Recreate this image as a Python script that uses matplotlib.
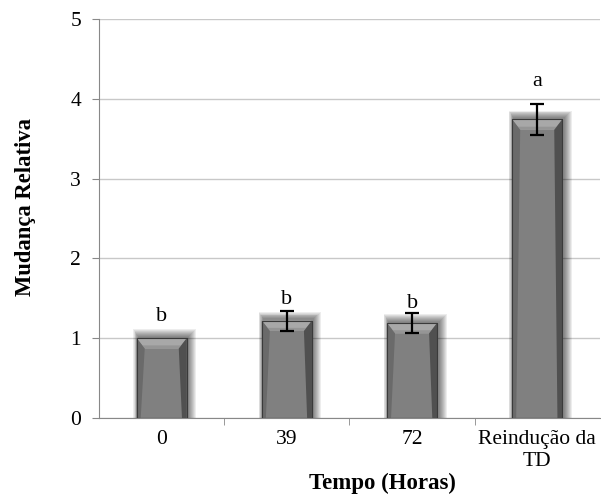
import matplotlib
matplotlib.use("Agg")
from matplotlib import pyplot as plt
from matplotlib.patches import Polygon, Rectangle
import numpy as np

categories = ["0", "39", "72", "Reindução da\nTD"]
values = [1.0, 1.22, 1.19, 3.74]
errors = [0.0, 0.125, 0.12, 0.19]
letters = ["b", "b", "b", "a"]
letter_y = [1.27, 1.48, 1.44, 4.21]

plt.rcParams["font.family"] = ["Liberation Serif", "DejaVu Serif"]

fig = plt.figure(figsize=(6.01, 4.97), dpi=100)
ax = fig.add_axes([0.165, 0.159, 0.833, 0.803])

x = np.arange(len(values))
w = 0.4

# soft shadow behind bars, a little to the right
for k in range(8):
    pad = 0.008 * (8 - k)
    for xi, v in zip(x, values):
        ax.add_patch(Rectangle((xi - w / 2 - pad * 0.6 + 0.012, 0), w + 1.6 * pad, v + 0.02 + pad * 1.4,
                               facecolor="black", alpha=0.07, lw=0, zorder=1))

bars = ax.bar(x, values, width=w, color="#808080", edgecolor="#404040", lw=0.8, zorder=2)

# bevel look
for b in bars:
    x0, wd, h = b.get_x(), b.get_width(), b.get_height()
    bx = wd * 0.16
    by = 0.13
    ax.add_patch(Polygon([(x0, h), (x0 + wd, h), (x0 + wd - bx, h - by), (x0 + bx, h - by)],
                         facecolor="#a8a8a8", lw=0, zorder=3))
    ax.add_patch(Polygon([(x0 + bx * 0.3, h - by * 0.7), (x0 + wd - bx * 0.3, h - by * 0.7),
                          (x0 + wd - bx, h - by), (x0 + bx, h - by)],
                         facecolor="#959595", lw=0, zorder=3))
    ax.add_patch(Polygon([(x0 + wd, h), (x0 + wd, 0), (x0 + wd - bx * 0.6, 0), (x0 + wd - bx, h - by)],
                         facecolor="#505050", lw=0, zorder=3))
    ax.add_patch(Polygon([(x0, h), (x0, 0), (x0 + bx * 0.5, 0), (x0 + bx, h - by)],
                         facecolor="#6a6a6a", lw=0, zorder=3))
    ax.add_patch(Rectangle((x0, 0), wd, h, facecolor="none", edgecolor="#3a3a3a", lw=0.8, zorder=3))

ax.errorbar(x[1:], values[1:], yerr=errors[1:], fmt="none", ecolor="black",
            elinewidth=1.6, capsize=5, capthick=1.6, zorder=4)

for xi, t, ly in zip(x, letters, letter_y):
    ax.text(xi, ly, t, ha="center", va="center", fontsize=16)

ax.set_xlim(-0.5, 3.5)
ax.set_ylim(0, 5)
ax.set_yticks(range(6))
ax.yaxis.grid(True, color="#c8c8c8", lw=1)
ax.set_axisbelow(True)
ax.set_xticks(x)
ax.set_xticklabels(categories, fontsize=15.5, linespacing=1.2)
ax.set_xticks([0.5, 1.5, 2.5], minor=True)
ax.tick_params(axis="x", which="major", length=0, pad=9)
ax.tick_params(axis="x", which="minor", length=5, color="#888888", direction="out")
ax.tick_params(axis="y", length=5, color="#888888", labelsize=15.5, pad=8)

for s in ["top", "right"]:
    ax.spines[s].set_visible(False)
ax.spines["left"].set_color("#888888")
ax.spines["bottom"].set_color("#888888")

ax.set_ylabel("Mudança Relativa", fontsize=16.3, fontweight="bold")
ax.yaxis.set_label_coords(-0.126, 0.529)
ax.set_xlabel("Tempo (Horas)", fontsize=16.5, fontweight="bold")
ax.xaxis.set_label_coords(0.566, -0.138)

fig.savefig("out.png", dpi=100)
